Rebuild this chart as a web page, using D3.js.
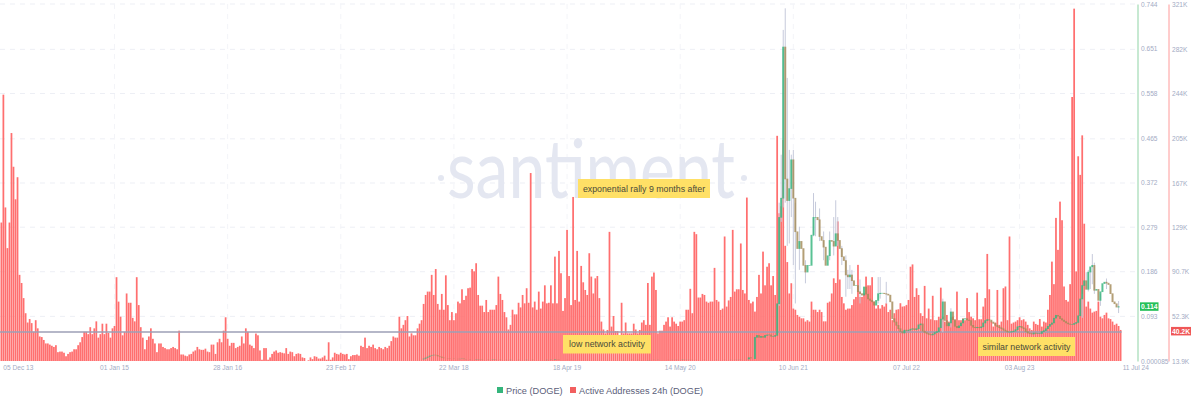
<!DOCTYPE html>
<html><head><meta charset="utf-8">
<script src="https://cdn.jsdelivr.net/npm/d3@7"></script>
<style>html,body{margin:0;padding:0;background:#fff}svg{display:block}text{font-family:"Liberation Sans",Arial,sans-serif}</style>
</head><body><svg id="c" width="1200" height="406"></svg>
<script>
// Active addresses, weekly, thousands
const addresses = [
133,243,146,111,133,210,181,153,172,88,81,68,55,47,50,46.5,39,49,42,35,34.5,32,29,29,28,27,26,27.5,21.5,22,22,21,18,20,21.5,22,24,24,27.5,30,34.5,39,39,37,43,37,42,48,34,37,46,37,46,38,34,42,44,86,65,52,36,39,72,64,64,51,48,86,62,43,34,24,32,35,42,33,29,21.5,
29,29,26,25,24,24,25,26,25,24,40,19.5,19.5,18.5,18,19.5,20,22,23,26,24,23.5,23.5,24.5,22,21.5,28,28,20,30,33,30,40,51.5,33,27,29.5,29.5,25,26,27,35,29,42,39,28,27,25,37.5,36,23,15,25,25,15,17,20,22,23,21,21.5,21,20.5,25,20,22,21.5,18,20,20.5,20,17,16.5,13.9,14.5,17,15.5,18,17.5,16,16,17,18.5,15,30,15,17,21,20,19.5,21,20,19.5,20,15.5,18,19,19,19.5,18.5,27,26,34,25,27,26,28,25,24,26,25,24,26,25,27,31,35,34,34,52,
42,45,49,52.6,35,37.7,36,36,42,46,49,63,70.7,73.6,73.6,88,70.7,93,63,58,71.6,58,87.6,62,49,56,49,55,65,63.5,75.6,66.4,70,76.5,77,93,91,98,70.7,61.5,61.5,56,66.4,56,58,58,58,62,86.5,71.6,66.4,56,51.5,41,45,58,54,54,64,60,70.7,63.5,76.5,64,175.6,60,65,58,73.6,59,65,79,63.5,64,79,63.5,103.7,63.5,108.6,89.4,57,68,126.7,87,62,155,66.4,108.6,65,95.7,81.6,75,70.7,106.6,86.5,72,85,87,68,47.8,41,37.7,40.6,125,43.5,52.6,39.7,39.7,36,64,37.7,47,37.7,37.7,37.7,46,41,37.7,40.6,47,49,45,81,45,86.5,90,75,37.7,40,40,45,47.8,51.5,43.5,51.5,47.8,46,44,47.8,47.8,49,58,58,76,55,125,123,68.5,68.5,71.6,70.7,65,64,65,65,94,66.4,
65,57.8,59,121,60.7,66,69,126.7,73.6,75.6,75.6,115,75,72,154.5,66.4,63.5,65,56.4,69,88,72,108,79,95,98,79,87,70.7,207.6,141,147,204,113,99,72,80.8,59,58,53.5,52,50.6,50.6,47.8,49,47.8,65,58,58,56,58,56,48,48,64,65,72,85,81,134,84,69,63.5,58,59,59,62,67,69,96.6,69,69,72,86.5,79,79,86,65,59,62,59,62,60.7,63.5,56,58,49,55,58,58.4,
63.6,60.7,61,62,66.4,95,97,69,76.5,70.7,55,52.6,78.5,50.6,59,49.8,70,49,49,52,77,52,47.8,53.5,47.8,51.5,52,49,73.6,49,49,50.6,49,68,56,52,50.6,49,72.7,49.8,49.8,60.7,68,106,75.6,47.8,43.5,47,75,45,47.8,76.5,78,49,121,46,47,47.8,49,51.5,49,49.8,47.8,45,42,40.6,47.8,45.8,45,50,43.5,47.8,47,58,70.7,99.4,80,137,109.5,151,135,78,66.4,65,80,241,317,91,190,174,208,132,60.7,65,59,55.5,56.4,57,65,52,50.6,53.5,55.5,50.6,50,47.8,45,46,44,40.6
];
// DOGE weekly close; the first value belongs to week number priceStart
const priceStart = 208;
const priceClose = [
.0035,.005,.007,.009,.011,.012,.013,.012,.01,.009,.007,.006,.006,.0055,.005,.005,.0045,.0045,.004,.0045,.005,.004,.0035,.0035,.003,.003,.003,.0035,.004,.0035,.003,.003,.003,.0025,.0025,.003,.0035,.003,.003,.0025,.0025,.0025,.002,.002,.0025,.0025,.0025,.0025,.002,.002,.002,.002,.0025,.0025,.0025,.002,.002,.002,.002,.002,.002,.002,.0025,.0025,.003,.003,.004,.0035,.003,.003,.003,.003,.0028,.0028,.0026,.0026,.0026,.0026,.0025,.0025,.0025,.0025,.0024,.0024,.0024,.0024,.0023,.0023,.0022,.0022,.0022,.0022,.0021,.0021,.0021,.0021,.002,.002,.002,.002,.0022,.0022,.0022,.0022,.0024,.0024,.0024,.002,.002,.0018,.0018,.0018,.002,.0022,.0022,.0024,.0024,.0026,.0026,.0026,.0026,.0026,.0024,.0024,.0026,.0026,.0028,.0026,.0026,.003,.0032,.0034,.0036,.0034,.0032,.0032,.003,.003,.003,.003,.0028,.0028,.0028,.0028,.0028,.0028,.003,.003,.003,.003,.0028,.0028,.0028,.003,.003,.0028,.003,.0032,.0034,.0034,.0034,.0036,
.0076,.0056,.0056,.05,.054,.05,.052,.05,.054,.055,.055,.052,.052,.054,.12,.30,.34,.655,.38,.335,.36,.42,.34,.27,.235,.25,.235,.2,.186,.2,.2,.263,.30,.30,.295,.26,.252,.238,.2,.22,.252,.25,.24,.266,.252,.235,.218,.21,.18,.176,.18,.168,.158,.158,.145,.141,.138,.155,.14,.13,.127,.124,.117,.127,.141,.142,.142,.141,.14,.138,.124,.089,.082,.075,.068,
.062,.059,.065,.064,.065,.067,.068,.066,.068,.076,.078,.063,.06,.058,.056,.055,.057,.06,.062,.07,.088,.124,.085,.074,.08,.103,.087,.073,.07,.074,.08,.088,.089,.086,.085,.075,.071,.07,.071,.07,.072,.08,.085,.087,.086,.082,.079,.075,.072,.07,.068,.065,.063,.061,.061,.062,.063,.066,.072,.073,.07,.068,.062,.059,.058,.057,.059,.058,.058,.058,.062,.064,.068,.073,.077,.08,.09,.096,.094,.089,.086,.083,.08,.078,.077,.077,.079,.081,.095,.13,.158,.168,.15,.186,.197,.2,.148,.15,.127,.145,.162,.165,.163,.16,.141,.124,.12,.113,.114
];
// Weeks with a visible wick
const wickWeek = [385,386,387,388,389,390,391,392,393,395,398,402,403,405,407,410,412,413,414,416,418,419,420,421,425,434,435,438,466,470,535,537,538,539,540,541,544,547,553];
const wickHigh = [.33,.43,.69,.735,.59,.44,.43,.44,.33,.28,.21,.35,.332,.318,.27,.27,.30,.335,.30,.24,.22,.19,.20,.19,.17,.175,.175,.165,.13,.11,.14,.185,.19,.195,.223,.205,.14,.172,.125];
const wickLow  = [.115,.29,.32,.33,.24,.245,.30,.2,.12,.19,.162,.26,.26,.25,.21,.21,.22,.24,.24,.2,.134,.15,.15,.14,.12,.12,.13,.12,.06,.07,.09,.15,.145,.15,.16,.14,.115,.15,.10];

const priceTicks = ["0.000085","0.093","0.186","0.279","0.372","0.465","0.558","0.651","0.744"];
const addressTicks = ["13.9K","52.3K","90.7K","129K","167K","205K","244K","282K","321K"];
const addressTickValues = [13.9,52.3,90.7,129,167,205,244,282,321];
const dateLabels = ["05 Dec 13","01 Jan 15","28 Jan 16","23 Feb 17","22 Mar 18","18 Apr 19","14 May 20","10 Jun 21","07 Jul 22","03 Aug 23","11 Jul 24"];
const dateWeeks = [0,56,112,168,224,280,336,392,448,504,555];
const lastPrice = 0.114, lastAddresses = 40.2, referenceLevel = 38.9;
const legendNames = ["Price (DOGE)","Active Addresses 24h (DOGE)"];
const notes = ["exponential rally 9 months after","low network activity","similar network activity"];

const GREEN="#35b57c", BROWN="#a38a58", RED="#ff6f6f", WICK="#c6cadb", TICK="#a3abc4", FONT="'Liberation Sans',Arial,sans-serif";
const svg=d3.select("#c");
const x=d3.scaleBand().domain(d3.range(556)).range([0.5,1123.5]).paddingInner(0.14).paddingOuter(0);
const cx=i=>x(i)+x.bandwidth()/2;
const yA=d3.scaleLinear().domain([13.9,321]).range([361,4]);
const yP=d3.scaleLinear().domain([0.000085,0.744]).range([361,4]);

// grid
const grid=svg.append("g").attr("stroke","#edeff5").attr("stroke-dasharray","5 5").attr("fill","none");
grid.selectAll(".h").data(addressTickValues.slice(1)).join("line")
 .attr("x1",0).attr("x2",1137).attr("y1",d=>yA(d)).attr("y2",d=>yA(d));
grid.selectAll(".v").data(dateWeeks.slice(1,10)).join("line")
 .attr("x1",d=>cx(d)).attr("x2",d=>cx(d)).attr("y1",4).attr("y2",361).attr("stroke","#f3f4f8");

// watermark
const wm=svg.append("g").attr("fill","#e4e7f1");
wm.append("text").attr("x",447).attr("y",198)
 .attr("font-size",81).attr("textLength",288).attr("lengthAdjust","spacingAndGlyphs")
 .style("font-family","Lato").style("font-weight",400).text("santiment");
wm.selectAll("circle").data([441,744]).join("circle").attr("cx",d=>d).attr("cy",178).attr("r",3);

// bars
svg.append("g").attr("fill",RED).selectAll("rect").data(addresses).join("rect")
 .attr("x",(d,i)=>x(i)).attr("width",x.bandwidth())
 .attr("y",d=>yA(d)).attr("height",d=>yA.range()[0]-yA(d));

// reference line
svg.append("line").attr("x1",0).attr("x2",cx(554)+1).attr("y1",yA(referenceLevel)).attr("y2",yA(referenceLevel))
 .attr("stroke","#9d9fb6").attr("stroke-width",1.6);

// candles
const wicks=svg.append("g").attr("stroke",WICK).attr("stroke-width",1);
wickWeek.forEach((w,k)=>wicks.append("line").attr("x1",cx(w)).attr("x2",cx(w)).attr("y1",yP(wickHigh[k])).attr("y2",yP(wickLow[k])));
const candles=priceClose.map((c,k)=>({week:priceStart+k,open:k?priceClose[k-1]:c,close:c}));
svg.append("g").attr("fill-opacity",.82).selectAll("rect").data(candles).join("rect")
 .attr("x",d=>cx(d.week)-1).attr("width",2)
 .attr("y",d=>yP(Math.max(d.open,d.close)))
 .attr("height",d=>Math.abs(yP(d.open)-yP(d.close))+(d.close>.02?.6:0))
 .attr("fill",d=>d.close>=d.open?GREEN:BROWN);

// axes
const axisP=d3.axisRight(yP).tickValues(d3.range(9).map(i=>0.000085+i*(0.744-0.000085)/8)).tickSize(0).tickFormat((d,i)=>priceTicks[i]);
const axisA=d3.axisRight(yA).tickValues(addressTickValues).tickSize(0).tickFormat((d,i)=>addressTicks[i]);
const gP=svg.append("g").attr("transform","translate(1137.5,0)").call(axisP);
const gA=svg.append("g").attr("transform","translate(1168.5,0)").call(axisA);
gP.select(".domain").attr("stroke","#8fd3a5");
gA.select(".domain").attr("stroke","#ff9a9a");
[gP,gA].forEach(g=>g.selectAll("text").attr("x",3.5).attr("fill",TICK).attr("font-size",6.6).style("font-family",FONT));

const axisX=d3.axisBottom(x).tickValues(dateWeeks).tickSize(0).tickFormat((d,i)=>dateLabels[i]);
const gX=svg.append("g").attr("transform","translate(0,365)").call(axisX);
gX.select(".domain").remove();
gX.selectAll("text").attr("y",0).attr("dy","0.71em").attr("fill",TICK).attr("font-size",6.6).style("font-family",FONT)
 .attr("text-anchor",(d,i)=>i===0||i===10?"start":"middle").attr("dx",(d,i)=>i===0?2:0);

// last value badges
svg.append("rect").attr("x",1140).attr("y",yP(lastPrice)-4).attr("width",18.5).attr("height",8.5).attr("fill","#26c05a");
svg.append("text").attr("x",1149.2).attr("y",yP(lastPrice)+2.6).attr("text-anchor","middle").attr("font-size",6.8).attr("font-weight","bold").attr("fill","#fff").text(lastPrice.toFixed(3));
svg.append("rect").attr("x",1171).attr("y",yA(lastAddresses)-3.5).attr("width",20).attr("height",8.5).attr("fill","#ef5757");
svg.append("text").attr("x",1181).attr("y",yA(lastAddresses)+3.1).attr("text-anchor","middle").attr("font-size",6.8).attr("font-weight","bold").attr("fill","#fff").text(lastAddresses.toFixed(1)+"K");

// annotations
[[578,179,132,19],[563,335,88,18.5],[978,337,97,19]].forEach((b,k)=>{
 svg.append("rect").attr("x",b[0]).attr("y",b[1]).attr("width",b[2]).attr("height",b[3]).attr("fill","#ffe066");
 svg.append("text").attr("x",b[0]+b[2]/2).attr("y",b[1]+b[3]/2+3.2).attr("text-anchor","middle").attr("font-size",8.8).attr("fill","#4a4a3a").text(notes[k]);
});

// legend
[[497,GREEN,506],[570,"#f25f5f",579]].forEach((l,k)=>{
 svg.append("rect").attr("x",l[0]).attr("y",387).attr("width",6).attr("height",6).attr("fill",l[1]);
 svg.append("text").attr("x",l[2]).attr("y",393.5).attr("font-size",9.2).attr("fill","#5b6079").text(legendNames[k]);
});
</script></body></html>
